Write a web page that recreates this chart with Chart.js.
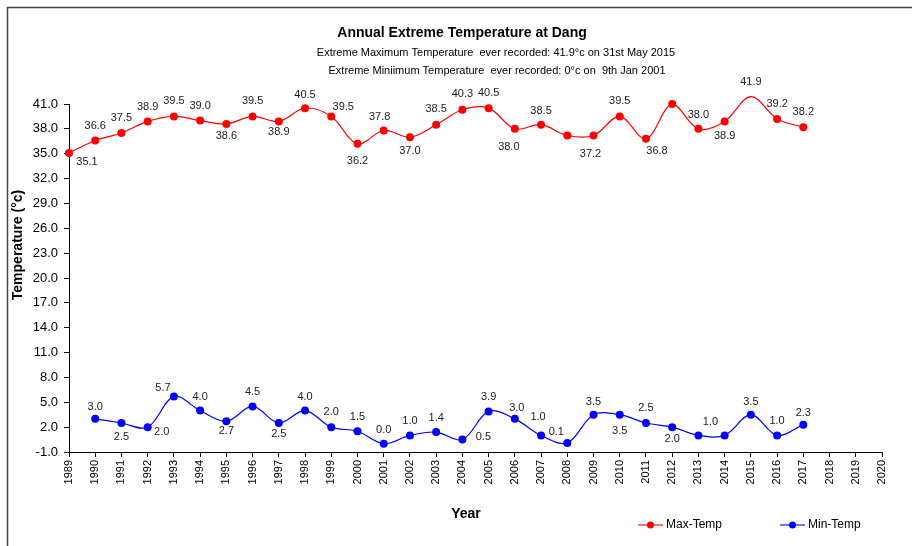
<!DOCTYPE html>
<html>
<head>
<meta charset="utf-8">
<script src="https://cdn.jsdelivr.net/npm/chart.js@4.4.1/dist/chart.umd.min.js"></script>
<style>
  body { margin: 0; background: #fff; }
</style>
</head>
<body>
<canvas id="tempChart" width="912" height="546"></canvas>
<script>
// Tick labels along the x axis
let years = ['1989', '1990', '1991', '1992', '1993', '1994', '1995', '1996', '1997', '1998',
             '1999', '2000', '2001', '2002', '2003', '2004', '2005', '2006', '2007', '2008',
             '2009', '2010', '2011', '2012', '2013', '2014', '2015', '2016', '2017', '2018',
             '2019', '2020'];

// Max temp, 1989 - 2017
let maxTemp = [35.1, 36.6, 37.5, 38.9, 39.5, 39.0, 38.6, 39.5, 38.9, 40.5,
               39.5, 36.2, 37.8, 37.0, 38.5, 40.3, 40.5, 38.0, 38.5, 37.2,
               37.2, 39.5, 36.8, 41.0, 38.0, 38.9, 41.9, 39.2, 38.2];

// Min temp, starts in 1990
let minTemp = [null, 3.0, 2.5, 2.0, 5.7, 4.0, 2.7, 4.5, 2.5, 4.0,
               2.0, 1.5, 0.0, 1.0, 1.4, 0.5, 3.9, 3.0, 1.0, 0.1,
               3.5, 3.5, 2.5, 2.0, 1.0, 1.0, 3.5, 1.0, 2.3];

// where each value label sits relative to its point (dx, dy), null = no label
let maxLabelOffset = [[18, 9], [0, -14], [0, -15], [0, -14], [0, -15], [0, -15], [0, 12], [0, -15], [0, 11], [0, -13],
                      [12, -9], [0, 17], [-4, -14], [0, 14], [0, -16], [0, -16], [0, -15], [-6, 18], [0, -14], null,
                      [-3, 18], [0, -15], [11, 12], null, [0, -14], [0, 15], [0, -15], [0, -15], [0, -15]];
let minLabelOffset = [null, [0, -12], [0, 14], [14, 5], [-11, -9], [0, -14], [0, 10], [0, -14], [0, 11], [0, -14],
                      [0, -15], [0, -14], [0, -14], [0, -14], [0, -14], [21, -3], [0, -14], [2, -11], [-3, -18], [-11, -11],
                      [0, -13], [0, 16], [0, -15], [0, 12], [12, -13], null, [0, -13], [0, -14], [0, -12]];

const FONT = '"Liberation Sans", Arial, sans-serif';
Chart.defaults.font.family = FONT;
Chart.defaults.color = '#000';

const extras = {
    id: 'extras',
    afterDatasetsDraw(chart) {
        let ctx = chart.ctx;
        let offsets = [maxLabelOffset, minLabelOffset];
        ctx.save();
        ctx.font = '11px ' + FONT;
        ctx.fillStyle = '#222';
        ctx.textAlign = 'center';
        ctx.textBaseline = 'middle';
        chart.data.datasets.forEach((ds, d) => {
            let meta = chart.getDatasetMeta(d);
            meta.data.forEach((pt, i) => {
                let off = offsets[d][i];
                if (ds.data[i] == null || !off) return;
                ctx.fillText(ds.data[i].toFixed(1), pt.x + off[0], pt.y + off[1]);
            });
        });
        ctx.restore();
    },
    afterDraw(chart) {
        let ctx = chart.ctx;
        ctx.save();

        // outer frame
        ctx.strokeStyle = '#444';
        ctx.lineWidth = 1.5;
        ctx.strokeRect(7.5, 7.5, 920, 560);

        // titles
        ctx.fillStyle = '#000';
        ctx.textAlign = 'center';
        ctx.textBaseline = 'middle';
        ctx.font = 'bold 14px ' + FONT;
        ctx.fillText('Annual Extreme Temperature at Dang', 462, 33);
        ctx.font = '11px ' + FONT;
        ctx.fillText('Extreme Maximum Temperature  ever recorded: 41.9°c on 31st May 2015', 496, 53);
        ctx.fillText('Extreme Miniimum Temperature  ever recorded: 0°c on  9th Jan 2001', 497, 71);

        // axis titles
        ctx.font = 'bold 14px ' + FONT;
        ctx.fillText('Year', 466, 514);
        ctx.save();
        ctx.translate(18, 245);
        ctx.rotate(-Math.PI / 2);
        ctx.fillText('Temperature (°c)', 0, 0);
        ctx.restore();

        // legend
        let items = [
            { label: 'Max-Temp', color: '#ff0000', fade: 'rgba(255,0,0,0.55)', x: 638 },
            { label: 'Min-Temp', color: '#0000ff', fade: 'rgba(0,0,255,0.55)', x: 780 }
        ];
        ctx.font = '12px ' + FONT;
        ctx.textAlign = 'left';
        items.forEach(it => {
            ctx.strokeStyle = it.fade;
            ctx.lineWidth = 2;
            ctx.beginPath();
            ctx.moveTo(it.x, 525);
            ctx.lineTo(it.x + 25, 525);
            ctx.stroke();
            ctx.fillStyle = it.color;
            ctx.beginPath();
            ctx.arc(it.x + 12.5, 525, 3.5, 0, Math.PI * 2);
            ctx.fill();
            ctx.fillStyle = '#000';
            ctx.fillText(it.label, it.x + 28, 525);
        });
        ctx.restore();
    }
};

let ctx = document.getElementById('tempChart').getContext('2d');

new Chart(ctx, {
    type: 'line',
    data: {
        labels: years,
        datasets: [
            {
                label: 'Max-Temp',
                data: maxTemp,
                borderColor: '#ff0000',
                backgroundColor: '#ff0000',
                borderWidth: 1.2,
                pointRadius: 4,
                pointBorderWidth: 0,
                tension: 0.35,
                clip: false
            },
            {
                label: 'Min-Temp',
                data: minTemp,
                borderColor: '#0000ff',
                backgroundColor: '#0000ff',
                borderWidth: 1.2,
                pointRadius: 4,
                pointBorderWidth: 0,
                tension: 0.35,
                clip: false
            }
        ]
    },
    options: {
        responsive: false,
        animation: false,
        layout: { padding: { top: 104, right: 30, left: 0, bottom: 0 } },
        plugins: {
            legend: { display: false },
            tooltip: { enabled: false }
        },
        scales: {
            x: {
                offset: false,
                grid: { drawOnChartArea: false, tickLength: 5, color: '#000' },
                border: { color: '#000', width: 1 },
                ticks: { autoSkip: false, minRotation: 90, maxRotation: 90, padding: 3, font: { size: 11 }, color: '#000' },
                afterFit(scale) { scale.height = 94; }
            },
            y: {
                min: -1,
                max: 41,
                grid: { drawOnChartArea: false, tickLength: 5, color: '#000' },
                border: { color: '#000', width: 1 },
                ticks: { stepSize: 3, padding: 6, font: { size: 13 }, color: '#000', callback: v => v.toFixed(1) },
                afterFit(scale) { scale.width = 69; }
            }
        }
    },
    plugins: [extras]
});
</script>
</body>
</html>
